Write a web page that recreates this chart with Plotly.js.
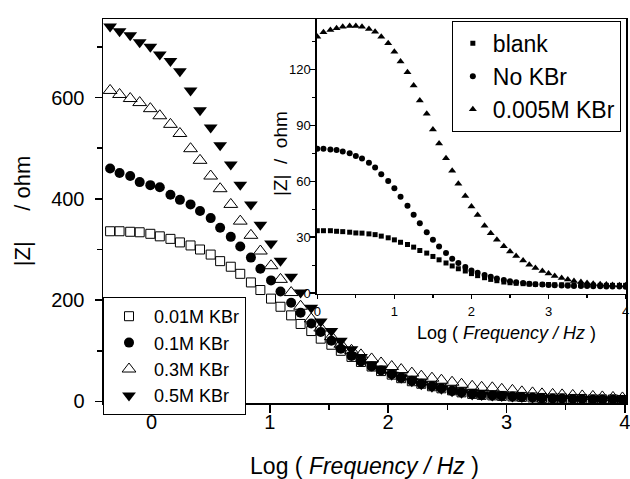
<!DOCTYPE html>
<html>
<head>
<meta charset="utf-8">
<script src="https://cdn.plot.ly/plotly-3.0.1.min.js"></script>
<style>html,body{margin:0;padding:0;background:#fff;}#chart{width:630px;height:479px;}</style>
</head>
<body>
<div id="chart"></div>
<script>
// ---- main plot data ----
const xMain = [-0.35, -0.27, -0.18, -0.10, -0.01, 0.07, 0.16, 0.24, 0.33, 0.41,
  0.50, 0.58, 0.67, 0.75, 0.84, 0.92, 1.01, 1.09, 1.18, 1.26,
  1.35, 1.43, 1.52, 1.60, 1.69, 1.77, 1.86, 1.94, 2.03, 2.11,
  2.20, 2.28, 2.37, 2.45, 2.54, 2.62, 2.71, 2.79, 2.88, 2.96,
  3.05, 3.13, 3.22, 3.30, 3.39, 3.47, 3.56, 3.64, 3.73, 3.81,
  3.90, 3.98];
const z001 = [336, 336, 335, 334, 331, 326, 321, 314, 308, 300,
  290, 277, 266, 252, 235, 220, 203, 187, 170, 153,
  139, 124, 112, 100, 88, 78, 69, 60, 53, 46,
  40, 35, 30, 26, 22, 18, 15, 13, 12, 11,
  10, 9, 8, 7, 6, 6, 5, 5, 4, 4, 4, 3];
const z01 = [460, 451, 445, 433, 427, 423, 408, 398, 389, 376,
  362, 343, 325, 306, 284, 262, 239, 217, 195, 175,
  154, 137, 120, 104, 90, 79, 69, 61, 54, 47,
  41, 35, 30, 26, 21, 18, 15, 13, 12, 11,
  10, 9, 8, 7, 6, 6, 5, 5, 4, 4, 4, 3];
const z03 = [614, 606, 598, 590, 578, 564, 547, 529, 499, 476,
  445, 420, 389, 356, 328, 297, 268, 241, 215, 188,
  163, 145, 128, 113, 101, 92, 84, 76, 69, 63,
  56, 50, 46, 42, 38, 34, 30, 28, 27, 24,
  22, 19, 17, 15, 14, 13, 12, 11, 10, 9, 8, 7];
const z05 = [740, 731, 723, 709, 700, 685, 672, 652, 614, 575,
  541, 506, 468, 428, 389, 349, 312, 278, 246, 215,
  185, 158, 139, 120, 103, 88, 73, 63, 53, 47,
  40, 34, 29, 25, 20, 17, 14, 13, 12, 11,
  10, 9, 8, 7, 7, 6, 6, 5, 5, 4, 4, 4];
const mainNames = ["0.01M KBr", "0.1M KBr", "0.3M KBr", "0.5M KBr"];

// ---- inset data ----
const xInset = [0, 0.08, 0.17, 0.25, 0.33, 0.42, 0.50, 0.58, 0.67, 0.75,
  0.83, 0.92, 1.00, 1.08, 1.17, 1.25, 1.33, 1.42, 1.50, 1.58,
  1.67, 1.75, 1.83, 1.92, 2.00, 2.08, 2.17, 2.25, 2.33, 2.42,
  2.50, 2.58, 2.67, 2.75, 2.83, 2.92, 3.00, 3.08, 3.17, 3.25,
  3.33, 3.42, 3.50, 3.58, 3.67, 3.75, 3.83, 3.92, 4.00];
const zBlank = [33.5, 33.5, 33.5, 33.2, 33.0, 32.7, 32.3, 32.2, 31.8, 31.4,
  30.6, 29.7, 28.6, 27.3, 26.1, 24.7, 22.9, 21.5, 19.7, 17.9,
  16.2, 14.6, 13.1, 11.9, 10.5, 9.4, 8.3, 7.4, 6.7, 6.0,
  5.6, 5.3, 5.1, 4.9, 4.8, 4.7, 4.6, 4.5, 4.5, 4.4,
  4.4, 4.3, 4.3, 4.3, 4.2, 4.2, 4.2, 4.2, 4.2];
const zNoKBr = [77.5, 77.5, 77.1, 76.8, 75.9, 75.0, 73.6, 72.2, 70.0, 67.4,
  63.8, 60.2, 56.3, 51.7, 46.9, 42.1, 37.5, 32.7, 28.6, 25.0,
  21.5, 18.5, 16.2, 14.0, 12.2, 11.0, 9.8, 8.8, 7.9, 7.1,
  6.4, 5.9, 5.5, 5.1, 4.8, 4.6, 4.4, 4.2, 4.1, 4.0,
  3.9, 3.8, 3.8, 3.7, 3.7, 3.6, 3.6, 3.6, 3.5];
const z0005 = [137.5, 139.9, 141.1, 142.0, 142.9, 143.3, 143.3, 142.9, 141.7, 140.2,
  137.5, 134.0, 129.5, 124.2, 118.5, 111.4, 103.3, 96.2, 87.8, 80.2,
  72.3, 65.6, 58.7, 52.1, 46.5, 41.9, 36.2, 32.2, 28.7, 25.2,
  22.3, 19.9, 17.5, 15.3, 13.5, 11.9, 10.5, 9.2, 8.2, 7.3,
  6.6, 6.0, 5.5, 5.1, 4.8, 4.6, 4.4, 4.3, 4.2];
const insetNames = ["blank", "No KBr", "0.005M KBr"];

const FONT = "Liberation Sans, Arial, sans-serif";
const NB = "\u00a0";

const traces = [
  {x: xMain, y: z001, name: mainNames[0], type: "scatter", mode: "markers",
   marker: {symbol: "square-open", size: 9, color: "#000", line: {width: 1, color: "#000"}}},
  {x: xMain, y: z01, name: mainNames[1], type: "scatter", mode: "markers",
   marker: {symbol: "circle", size: 10, color: "#000"}},
  {x: xMain, y: z03, name: mainNames[2], type: "scatter", mode: "markers",
   marker: {symbol: "triangle-up-open", size: 12, color: "#000", line: {width: 1, color: "#000"}}},
  {x: xMain, y: z05, name: mainNames[3], type: "scatter", mode: "markers",
   marker: {symbol: "triangle-down", size: 12, color: "#000"}},
  {x: xInset, y: zBlank, name: insetNames[0], type: "scatter", mode: "markers",
   xaxis: "x2", yaxis: "y2", legend: "legend2",
   marker: {symbol: "square", size: 5, color: "#000"}},
  {x: xInset, y: zNoKBr, name: insetNames[1], type: "scatter", mode: "markers",
   xaxis: "x2", yaxis: "y2", legend: "legend2",
   marker: {symbol: "circle", size: 6, color: "#000"}},
  {x: xInset, y: z0005, name: insetNames[2], type: "scatter", mode: "markers",
   xaxis: "x2", yaxis: "y2", legend: "legend2",
   marker: {symbol: "triangle-up", size: 7, color: "#000"}}
];

const axBase = {
  showline: true, linecolor: "#000", linewidth: 1.5, showgrid: false, zeroline: false,
  ticks: "outside", tickcolor: "#000", tickwidth: 1.5, automargin: false,
  ticklabeloverflow: "allow"
};

const layout = {
  width: 630, height: 479, autosize: false,
  margin: {l: 103, r: 4, t: 19, b: 76, pad: 0},
  paper_bgcolor: "#fff", plot_bgcolor: "#fff",
  font: {family: FONT, color: "#000"},
  showlegend: true,
  xaxis: Object.assign({}, axBase, {
    domain: [0, 1], range: [-0.41, 4.01], mirror: true,
    tick0: 0, dtick: 1, ticklen: 8, ticklabelstandoff: -8,
    minor: {dtick: 0.5, ticklen: 5, ticks: "outside", tickwidth: 1.5, tickcolor: "#000"},
    tickfont: {size: 20, family: FONT},
    title: {text: "Log ( <i>Frequency / Hz</i> )", font: {size: 23, family: FONT}, standoff: 28}
  }),
  yaxis: Object.assign({}, axBase, {
    domain: [0, 1], range: [-3, 755], mirror: true,
    tick0: 0, dtick: 200, ticklen: 7, ticklabelstandoff: 6,
    minor: {dtick: 100, ticklen: 5, ticks: "outside", tickwidth: 1.5, tickcolor: "#000"},
    tickfont: {size: 20, family: FONT},
    title: {text: "|Z|" + NB + NB + NB + NB + NB + "/ ohm", font: {size: 22, family: FONT}, standoff: 14}
  }),
  xaxis2: Object.assign({}, axBase, {
    domain: [0.409, 1], anchor: "y2", range: [-0.005, 4.005], mirror: false,
    tick0: 0, dtick: 1, ticklen: 4, ticklabelstandoff: 1,
    minor: {dtick: 0.5, ticklen: 3, ticks: "outside", tickwidth: 1.2, tickcolor: "#000"},
    tickfont: {size: 13, family: FONT}
  }),
  yaxis2: Object.assign({}, axBase, {
    domain: [0.284, 1], anchor: "x2", range: [-0.4, 147], mirror: false,
    tick0: 0, dtick: 30, ticklen: 5, ticklabelstandoff: -3,
    minor: {dtick: 15, ticklen: 3, ticks: "outside", tickwidth: 1.2, tickcolor: "#000"},
    tickfont: {size: 13, family: FONT}
  }),
  legend: {
    x: 0, y: 0.276, xanchor: "left", yanchor: "top",
    bgcolor: "#fff", bordercolor: "#000", borderwidth: 1,
    font: {size: 18, family: FONT}, itemwidth: 40, tracegroupgap: 0
  },
  legend2: {
    x: 0.667, y: 0.995, xanchor: "left", yanchor: "top",
    bgcolor: "#fff", bordercolor: "#000", borderwidth: 1,
    font: {size: 23, family: FONT}, itemwidth: 30, tracegroupgap: 0
  },
  annotations: [
    {text: "Log ( <i>Frequency / Hz</i> )", xref: "paper", yref: "paper",
     x: 0.7706, y: 0.182, xanchor: "center", yanchor: "middle", showarrow: false,
     font: {size: 18, family: FONT, color: "#000"}},
    {text: "|Z|" + NB + NB + "/" + NB + NB + "ohm", xref: "paper", yref: "paper",
     x: 0.3384, y: 0.651, xanchor: "center", yanchor: "middle", showarrow: false,
     textangle: -90, font: {size: 19, family: FONT, color: "#000"}}
  ]
};

Plotly.newPlot("chart", traces, layout, {displayModeBar: false, staticPlot: true});
</script>
</body>
</html>
